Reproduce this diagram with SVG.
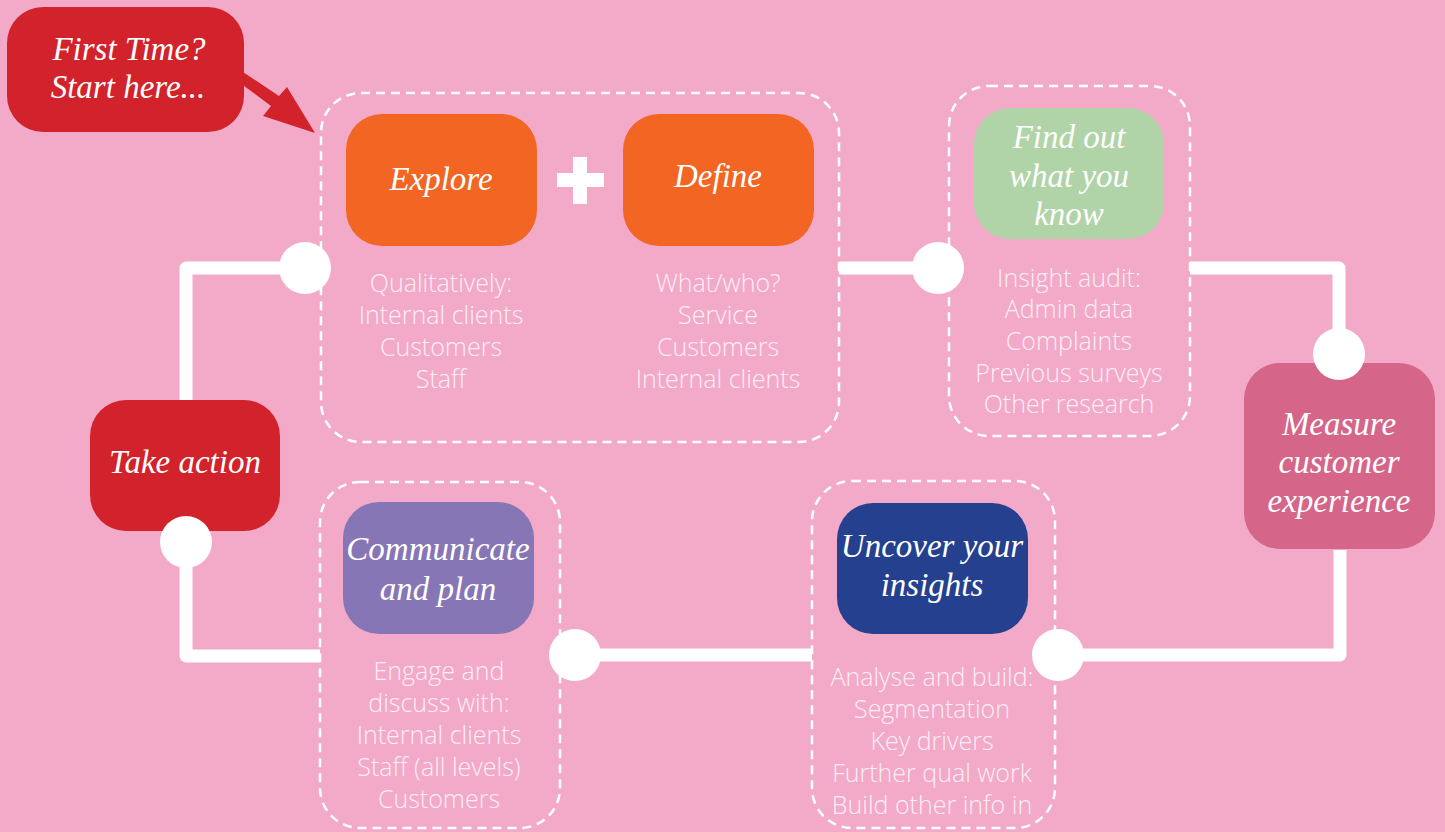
<svg xmlns="http://www.w3.org/2000/svg" width="1445" height="832" viewBox="0 0 1445 832">
<style>
.bg{fill:#F2AAC8}
.dash{fill:none;stroke:#FFFFFF;stroke-width:2.5;stroke-dasharray:9 6}
.line{fill:none;stroke:#FFFFFF;stroke-width:13;stroke-linejoin:round}
.dot{fill:#FFFFFF}
.title{font-family:"Liberation Serif","Times New Roman",serif;font-style:italic;font-size:33px;fill:#FFFFFF;text-anchor:middle}
.sub{font-family:"Open Sans","Liberation Sans",sans-serif;font-weight:300;font-size:25px;fill:#FDEFF5;text-anchor:middle}
</style>
<rect class="bg" x="0" y="0" width="1445" height="832"/>

<g id="start">
<rect x="7" y="7" width="237" height="125" rx="36" fill="#D2222C"/>
<polygon fill="#D2222C" points="240,70 279,96 287,87 315,133 263,116 271,106 236,80"/>
<text class="title" x="129" y="60">First Time?</text>
<text class="title" x="128" y="98">Start here...</text>
</g>

<g id="explore-define">
<rect class="dash" x="321" y="93" width="518" height="349" rx="40"/>
<rect x="346" y="114" width="191" height="132" rx="36" fill="#F26522"/>
<text class="title" x="441" y="190">Explore</text>
<rect x="623" y="114" width="191" height="132" rx="36" fill="#F26522"/>
<text class="title" x="718" y="187">Define</text>
<path d="M557,180 H604 M580,157 V204" stroke="#FFFFFF" stroke-width="14" fill="none"/>
<text class="sub" x="441" y="292">Qualitatively:</text>
<text class="sub" x="441" y="324">Internal clients</text>
<text class="sub" x="441" y="356">Customers</text>
<text class="sub" x="441" y="388">Staff</text>
<text class="sub" x="718" y="292">What/who?</text>
<text class="sub" x="718" y="324">Service</text>
<text class="sub" x="718" y="356">Customers</text>
<text class="sub" x="718" y="388">Internal clients</text>
</g>

<g id="find-out">
<rect class="dash" x="949" y="86" width="241" height="350" rx="40"/>
<rect x="974" y="108" width="190" height="131" rx="36" fill="#B1D3A8"/>
<text class="title" x="1069" y="148">Find out</text>
<text class="title" x="1069" y="187">what you</text>
<text class="title" x="1069" y="225">know</text>
<text class="sub" x="1069" y="287">Insight audit:</text>
<text class="sub" x="1069" y="318">Admin data</text>
<text class="sub" x="1069" y="350">Complaints</text>
<text class="sub" x="1069" y="382">Previous surveys</text>
<text class="sub" x="1069" y="413">Other research</text>
</g>

<g id="measure">
<rect x="1244" y="363" width="191" height="186" rx="36" fill="#D5668A"/>
<text class="title" x="1339" y="435">Measure</text>
<text class="title" x="1339" y="473">customer</text>
<text class="title" x="1339" y="512">experience</text>
</g>

<g id="uncover">
<rect class="dash" x="812" y="481" width="243" height="347" rx="40"/>
<rect x="837" y="503" width="191" height="131" rx="36" fill="#25408F"/>
<text class="title" x="932" y="557">Uncover your</text>
<text class="title" x="932" y="596">insights</text>
<text class="sub" x="932" y="686">Analyse and build:</text>
<text class="sub" x="932" y="718">Segmentation</text>
<text class="sub" x="932" y="750">Key drivers</text>
<text class="sub" x="932" y="782">Further qual work</text>
<text class="sub" x="932" y="814">Build other info in</text>
</g>

<g id="communicate">
<rect class="dash" x="320" y="482" width="240" height="346" rx="40"/>
<rect x="343" y="502" width="191" height="132" rx="36" fill="#8776B5"/>
<text class="title" x="438" y="560">Communicate</text>
<text class="title" x="438" y="600">and plan</text>
<text class="sub" x="439" y="680">Engage and</text>
<text class="sub" x="439" y="712">discuss with:</text>
<text class="sub" x="439" y="744">Internal clients</text>
<text class="sub" x="439" y="776">Staff (all levels)</text>
<text class="sub" x="439" y="808">Customers</text>
</g>

<g id="take-action">
<rect x="90" y="400" width="190" height="131" rx="36" fill="#D2222C"/>
<text class="title" x="185" y="473">Take action</text>
</g>

<g id="connectors">
<path class="line" d="M300,268 H186 V400"/>
<path class="line" d="M186,540 V656 H320"/>
<path class="line" d="M575,655 H812"/>
<path class="line" d="M1058,655 H1340 V550"/>
<path class="line" d="M1339,354 V268 H1190"/>
<path class="line" d="M839,268 H938"/>
<circle class="dot" cx="305" cy="268" r="26"/>
<circle class="dot" cx="186" cy="542" r="26"/>
<circle class="dot" cx="575" cy="655" r="26"/>
<circle class="dot" cx="1058" cy="655" r="26"/>
<circle class="dot" cx="1339" cy="354" r="26"/>
<circle class="dot" cx="938" cy="268" r="26"/>
</g>
</svg>
